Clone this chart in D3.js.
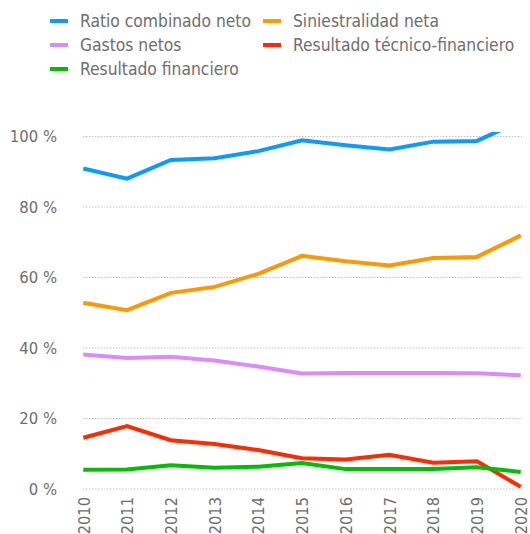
<!DOCTYPE html>
<html>
<head>
<meta charset="utf-8">
<script src="https://cdn.jsdelivr.net/npm/d3@7"></script>
<style>
  html, body { margin: 0; padding: 0; background: #fff; }
  svg { display: block; }
  text { font-family: "DejaVu Sans Condensed", "DejaVu Sans", sans-serif; fill: #6e6e6e; }
</style>
</head>
<body>
<svg id="chart" width="530" height="534"></svg>
<script>
// Years on the horizontal axis
const years = [2010, 2011, 2012, 2013, 2014, 2015, 2016, 2017, 2018, 2019, 2020];

// Ratios (% of net premiums)
const ratioCombinadoNeto     = [90.8, 87.9, 93.2, 93.7, 95.7, 98.8, 97.4, 96.2, 98.4, 98.6, 104.3];
const siniestralidadNeta     = [52.7, 50.6, 55.5, 57.2, 60.9, 66.0, 64.5, 63.3, 65.4, 65.7, 71.8];
const gastosNetos            = [38.0, 37.0, 37.4, 36.3, 34.6, 32.6, 32.8, 32.8, 32.8, 32.7, 32.1];
const resultadoTecnicoFin    = [14.4, 17.7, 13.7, 12.6, 10.9, 8.6, 8.2, 9.6, 7.3, 7.7, 0.5];
const resultadoFinanciero    = [5.3, 5.4, 6.6, 5.9, 6.2, 7.2, 5.5, 5.5, 5.5, 6.0, 4.7];

const yTicks = [0, 20, 40, 60, 80, 100];

const seriesNames = ["Ratio combinado neto", "Siniestralidad neta", "Gastos netos",
                     "Resultado técnico-financiero", "Resultado financiero"];
const seriesColors = ["#0a9bff", "#ff9800", "#d98bff", "#ff2b00", "#00bf00"];
const seriesValues = [ratioCombinadoNeto, siniestralidadNeta, gastosNetos,
                      resultadoTecnicoFin, resultadoFinanciero];

const series = seriesNames.map((name, i) => ({
  name, color: seriesColors[i],
  values: years.map((y, j) => ({ year: y, value: seriesValues[i][j] }))
}));

const svg = d3.select("#chart");

const x = d3.scalePoint().domain(years).range([83.3, 520.7]);
const y = d3.scaleLinear().domain([0, 100]).range([488.5, 136]);

// Clip so the lines stop just above the 100 % gridline
svg.append("defs").append("clipPath").attr("id", "plot-clip")
  .append("rect").attr("x", 70).attr("y", 132).attr("width", 470).attr("height", 402);

// Horizontal dotted gridlines
const yAxis = d3.axisLeft(y).tickValues(yTicks).tickFormat(d => d + " %")
  .tickSize(-(522 - 83)).tickPadding(26);
const gy = svg.append("g").attr("transform", "translate(83,0)").call(yAxis);
gy.select(".domain").remove();
gy.selectAll(".tick line")
  .attr("stroke", "#c4c4c4").attr("stroke-width", 1).attr("stroke-dasharray", "1.5,1.5");
gy.selectAll(".tick text")
  .attr("font-size", 16.5).attr("fill", "#6e6e6e")
  .attr("dy", "0.35em");

// Year labels, rotated
const xAxis = d3.axisBottom(x).tickSize(0).tickPadding(0);
const gx = svg.append("g").attr("transform", "translate(0,497)").call(xAxis);
gx.select(".domain").remove();
gx.selectAll(".tick text")
  .attr("font-size", 16.3).attr("fill", "#6e6e6e")
  .attr("text-anchor", "end")
  .attr("transform", "rotate(-90)")
  .attr("x", 0).attr("y", 0).attr("dy", "0.35em");

// Lines
const line = d3.line().x(d => x(d.year)).y(d => y(d.value));
svg.append("g").attr("clip-path", "url(#plot-clip)")
  .selectAll("path").data(series).join("path")
  .attr("d", d => line(d.values))
  .attr("fill", "none")
  .attr("stroke", d => d.color)
  .attr("stroke-width", 4)
  .attr("stroke-linejoin", "miter");

// Legend
const legendPos = [
  [50, 21], [263, 21],
  [50, 45], [263, 45],
  [50, 69]
];
const lg = svg.append("g");
series.forEach((s, k) => {
  const [lx, ly] = legendPos[k];
  const item = lg.append("g").attr("transform", `translate(${lx},${ly})`);
  item.append("line").attr("x1", 0).attr("x2", 18).attr("y1", 0).attr("y2", 0)
    .attr("stroke", s.color).attr("stroke-width", 4);
  item.append("text").attr("x", 30).attr("y", 0).attr("dy", "0.35em")
    .attr("font-size", 17.3).text(s.name);
});
</script>
</body>
</html>
